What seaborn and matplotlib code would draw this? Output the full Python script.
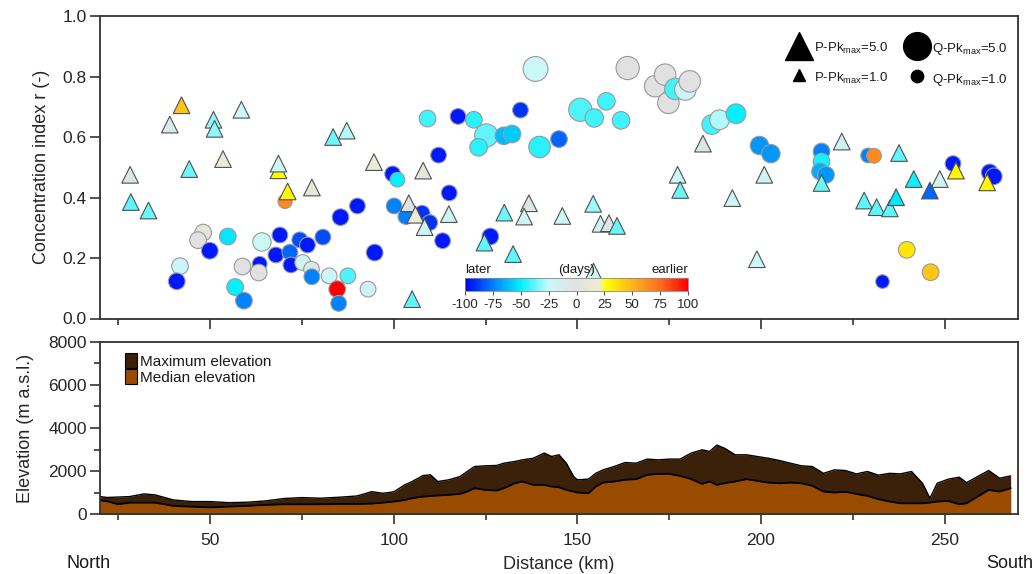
import pandas as pd
import matplotlib
matplotlib.use("Agg")
import matplotlib.pyplot as plt
from matplotlib.colors import LinearSegmentedColormap, Normalize
from matplotlib.cm import ScalarMappable
from matplotlib.lines import Line2D
from matplotlib.patches import Patch
from matplotlib.ticker import MultipleLocator
import seaborn as sns

# discharge peaks (circles): distance (km), concentration index r, timing (days), Pk_max
q_dist = [70.4, 48.1, 46.7, 54.8, 49.9, 41.8, 40.9, 64.1, 69.0, 74.4, 76.5, 80.7, 85.5, 90.1,
          67.9, 71.7, 72.0, 63.5, 58.8, 63.2, 75.2, 77.6, 77.7, 82.4, 87.5, 56.8, 59.2, 84.6,
          85.0, 138.6, 109.2, 117.5, 121.8, 134.5, 125.2, 123.1, 130.0, 132.2, 145.0, 139.7,
          150.8, 154.6, 157.9, 112.2, 99.7, 101.0, 115.1, 100.1, 103.3, 107.7, 109.8, 113.3,
          126.3, 94.8, 93.0, 163.7, 171.2, 173.9, 174.8, 176.7, 179.4, 180.6, 161.9, 186.6,
          188.7, 193.2, 199.6, 202.7, 216.5, 216.5, 216.1, 217.7, 229.2, 230.8, 252.3, 262.3,
          263.4, 239.7, 246.2, 233.1]
q_r = [0.387, 0.284, 0.259, 0.271, 0.224, 0.173, 0.123, 0.253, 0.276, 0.260, 0.243, 0.269,
       0.335, 0.372, 0.210, 0.219, 0.177, 0.181, 0.172, 0.152, 0.185, 0.163, 0.138, 0.141,
       0.141, 0.104, 0.059, 0.097, 0.050, 0.825, 0.661, 0.668, 0.657, 0.689, 0.605, 0.566,
       0.604, 0.610, 0.593, 0.567, 0.690, 0.663, 0.718, 0.540, 0.478, 0.459, 0.415, 0.372,
       0.337, 0.348, 0.317, 0.257, 0.271, 0.218, 0.097, 0.828, 0.768, 0.806, 0.713, 0.759,
       0.757, 0.784, 0.655, 0.641, 0.657, 0.677, 0.572, 0.545, 0.552, 0.519, 0.486, 0.475,
       0.539, 0.538, 0.512, 0.483, 0.470, 0.227, 0.153, 0.122]
q_days = [65, 5, 0, -52, -95, -20, -95, -22, -95, -85, -95, -85, -95, -95, -95, -80, -95, -95,
          0, 0, -18, -8, -75, -22, -40, -50, -75, 100, -75, -22, -42, -95, -45, -90, -38, -45,
          -62, -58, -80, -45, -40, -42, -42, -95, -95, -50, -95, -75, -75, -90, -90, -95, -95,
          -95, -18, 0, 0, 0, 0, -42, -18, 0, -42, -42, -28, -50, -70, -70, -75, -47, -65, -70,
          -75, 65, -95, -95, -95, 35, 45, -95]
q_pk = [1.3, 1.8, 1.8, 1.8, 1.8, 1.8, 1.8, 2.2, 1.6, 1.6, 1.6, 1.6, 1.8, 1.6, 1.6, 1.6, 1.6,
        1.4, 1.8, 1.8, 1.6, 1.6, 1.6, 1.6, 1.6, 1.8, 1.8, 1.8, 1.6, 4.0, 1.8, 1.6, 1.8, 1.6,
        3.5, 2.0, 2.0, 2.0, 1.8, 3.0, 3.5, 2.2, 2.0, 1.6, 1.6, 1.4, 1.6, 1.6, 1.6, 1.6, 1.6,
        1.6, 1.8, 1.8, 1.6, 3.5, 3.0, 3.0, 3.0, 3.0, 3.0, 3.0, 2.0, 2.5, 2.5, 2.5, 2.2, 2.2,
        1.8, 1.8, 1.8, 1.8, 1.4, 1.4, 1.6, 1.8, 1.8, 1.8, 1.8, 1.2]

# precipitation peaks (triangles)
p_dist = [42.2, 39.0, 50.9, 51.2, 58.5, 53.5, 44.3, 28.2, 28.4, 33.2, 68.6, 68.6, 71.1, 77.7,
          83.5, 87.2, 94.6, 108.0, 104.1, 105.9, 108.4, 115.0, 124.7, 130.1, 136.8, 135.5,
          132.5, 145.9, 154.3, 156.3, 158.6, 160.8, 105.0, 154.4, 184.2, 177.3, 178.0, 192.2,
          200.9, 198.9, 222.0, 216.5, 237.6, 253.1, 261.6, 241.6, 248.7, 246.0, 228.1, 231.5,
          235.1, 236.8]
p_r = [0.705, 0.641, 0.657, 0.627, 0.690, 0.527, 0.494, 0.475, 0.385, 0.357, 0.490, 0.512,
       0.420, 0.433, 0.600, 0.621, 0.517, 0.489, 0.381, 0.343, 0.302, 0.345, 0.251, 0.350,
       0.381, 0.337, 0.213, 0.339, 0.379, 0.313, 0.315, 0.306, 0.064, 0.155, 0.578, 0.475,
       0.425, 0.398, 0.475, 0.196, 0.585, 0.448, 0.547, 0.489, 0.450, 0.461, 0.461, 0.423,
       0.390, 0.368, 0.364, 0.401]
p_days = [45, -10, -32, -32, -22, 15, -36, -5, -38, -36, 28, -22, 30, 10, -36, -28, 15, 5, 0,
          15, -18, -18, -38, -36, -5, -18, -38, -22, -30, -18, -5, -36, -38, -18, -5, -22, -36,
          -22, -18, -22, -18, -36, -38, 30, 30, -48, -18, -80, -38, -38, -38, -52]
p_pk = [1.8] * len(p_dist)

# elevation profile along the transect
prof_km = [20, 22, 25, 28, 32, 35, 40, 45, 50, 55, 60, 65, 70, 75, 80, 85, 90, 94, 97, 100,
           103, 105, 108, 110, 112, 115, 118, 120, 122, 125, 128, 130, 133, 135, 138, 141, 143,
           145, 147, 149, 150, 153, 155, 157, 160, 163, 166, 169, 172, 175, 178, 181, 184, 186,
           188, 190, 193, 196, 199, 202, 205, 208, 211, 214, 217, 220, 223, 226, 229, 232, 235,
           238, 241, 244, 246, 248, 251, 254, 256, 259, 262, 265, 268]
prof_max = [820, 780, 800, 820, 945, 900, 665, 590, 590, 540, 560, 620, 730, 775, 745, 790, 850,
            1050, 975, 1040, 1365, 1520, 1800, 1830, 1520, 1600, 1750, 1985, 2215, 2250, 2265,
            2370, 2450, 2525, 2600, 2840, 2680, 2760, 2370, 1750, 1600, 1630, 1900, 2060, 2215,
            2400, 2370, 2560, 2525, 2560, 2560, 2840, 2990, 2915, 3210, 3070, 2760, 2760, 2680,
            2600, 2495, 2370, 2250, 2215, 1900, 2060, 2030, 1875, 1985, 1815, 1900, 1875, 1985,
            1440, 745, 1440, 1630, 1720, 1470, 1750, 2030, 1675, 1780]
prof_med = [650, 600, 465, 540, 540, 540, 390, 355, 325, 355, 390, 435, 465, 465, 465, 480, 480,
            495, 540, 590, 665, 745, 820, 850, 870, 900, 945, 1055, 1210, 1130, 1100, 1210, 1440,
            1520, 1365, 1365, 1285, 1255, 1130, 1055, 1010, 975, 1285, 1470, 1520, 1600, 1630,
            1830, 1875, 1875, 1780, 1630, 1410, 1520, 1365, 1440, 1520, 1630, 1550, 1470, 1440,
            1470, 1440, 1320, 1055, 1010, 1040, 945, 850, 700, 590, 510, 510, 510, 540, 590, 620,
            465, 510, 820, 1130, 1055, 1210]

cbar_ticks = [-100, -75, -50, -25, 0, 25, 50, 75, 100]

sns.set_style("ticks")
plt.rcParams["font.family"] = ["Liberation Sans", "DejaVu Sans"]
plt.rcParams["mathtext.fontset"] = "custom"
plt.rcParams["mathtext.rm"] = "Liberation Sans"
plt.rcParams["mathtext.it"] = "Liberation Sans"
plt.rcParams["text.color"] = "#1a1a1a"
plt.rcParams["axes.unicode_minus"] = False

cmap = LinearSegmentedColormap.from_list("timing", [
    (0.0, "#0000ff"), (0.125, "#0082ff"), (0.25, "#00f0ff"), (0.375, "#c8fafa"),
    (0.5, "#e1e1e1"), (0.6, "#f0ecd2"), (0.635, "#ffff00"), (0.75, "#ffb41e"),
    (0.875, "#ff6e1e"), (1.0, "#ff0000")])

qdf = pd.DataFrame({"dist": q_dist, "r": q_r, "days": q_days, "pk": q_pk})
pdf = pd.DataFrame({"dist": p_dist, "r": p_r, "days": p_days, "pk": p_pk})
prof = pd.DataFrame({"km": prof_km, "max": prof_max, "med": prof_med})

fig = plt.figure(figsize=(10.35, 5.74), dpi=100)
ax1 = fig.add_axes([100 / 1035, 1 - 318.5 / 574, 918 / 1035, 302.5 / 574])
ax2 = fig.add_axes([100 / 1035, 1 - 514.3 / 574, 918 / 1035, 172.5 / 574])

sns.scatterplot(data=qdf, x="dist", y="r", hue="days", size="pk", palette=cmap,
                hue_norm=(-100, 100), sizes=(80, 400), size_norm=(1, 5), marker="o",
                edgecolor="#9a9a9a", linewidth=0.8, legend=False, ax=ax1, zorder=3)
sns.scatterplot(data=pdf, x="dist", y="r", hue="days", size="pk", palette=cmap,
                hue_norm=(-100, 100), sizes=(80, 400), size_norm=(1, 5), marker="^",
                edgecolor="#505050", linewidth=0.8, legend=False, ax=ax1, zorder=4)

# size legend
handles = [Line2D([], [], ls="", marker="^", color="k", markersize=20),
           Line2D([], [], ls="", marker="^", color="k", markersize=8.9),
           Line2D([], [], ls="", marker="o", color="k", markersize=20),
           Line2D([], [], ls="", marker="o", color="k", markersize=8.9)]
labels = [r"P-Pk$_{\mathrm{max}}$=5.0", r"P-Pk$_{\mathrm{max}}$=1.0",
          r"Q-Pk$_{\mathrm{max}}$=5.0", r"Q-Pk$_{\mathrm{max}}$=1.0"]
ax1.legend(handles, labels, ncol=2, loc="upper left", bbox_to_anchor=(0.7516, 0.922),
           frameon=False, fontsize=9.5, handlelength=1.4, handletextpad=0.4,
           handleheight=1.5, labelspacing=1.0, columnspacing=1.5, borderpad=0,
           borderaxespad=0, numpoints=1)

ax1.set_xlim(20, 270)
ax1.set_ylim(0, 1)
ax1.yaxis.set_major_locator(MultipleLocator(0.2))
ax1.yaxis.set_major_formatter(matplotlib.ticker.FormatStrFormatter("%.1f"))
ax1.xaxis.set_major_locator(MultipleLocator(50))
ax1.xaxis.set_minor_locator(MultipleLocator(25))
ax1.tick_params(axis="x", labelbottom=False)
ax1.set_xlabel("")
ax1.set_ylabel("Concentration index r (-)", fontsize=13)
ax1.yaxis.set_label_coords(-0.054, 0.5)

# elevation panel
ax2.fill_between(prof["km"], 0, prof["max"], color="#3b200a", lw=0)
ax2.fill_between(prof["km"], 0, prof["med"], color="#994c00", lw=0)
sns.lineplot(data=prof, x="km", y="max", color="black", lw=1.0, ax=ax2)
sns.lineplot(data=prof, x="km", y="med", color="black", lw=1.3, ax=ax2)
ax2.set_xlim(20, 270)
ax2.set_ylim(0, 8000)
ax2.yaxis.set_major_locator(MultipleLocator(2000))
ax2.yaxis.set_minor_locator(MultipleLocator(1000))
ax2.xaxis.set_major_locator(MultipleLocator(50))
ax2.xaxis.set_minor_locator(MultipleLocator(25))
ax2.set_ylabel("Elevation (m a.s.l.)", fontsize=13)
ax2.yaxis.set_label_coords(-0.072, 0.5)
ax2.set_xlabel("Distance (km)", fontsize=13, labelpad=6)
leg_h = [Patch(facecolor="#3b200a", edgecolor="black", lw=0.8),
         Patch(facecolor="#994c00", edgecolor="black", lw=0.8)]
ax2.legend(leg_h, ["Maximum elevation", "Median elevation"], loc="upper left",
           bbox_to_anchor=(0.027, 0.936), frameon=False, fontsize=11, handlelength=0.8,
           handleheight=1.2, handletextpad=0.2, labelspacing=0.0, borderpad=0,
           borderaxespad=0)

for ax in (ax1, ax2):
    for s in ax.spines.values():
        s.set_visible(True)
        s.set_linewidth(1.3)
        s.set_color("#333333")
    ax.tick_params(which="major", direction="out", length=7.5, width=1.2, color="#333333",
                   labelsize=12.5, pad=2)
    ax.tick_params(which="minor", direction="out", length=4.5, width=1.2, color="#333333")
ax2.tick_params(axis="x", which="major", pad=6)

fig.text(67 / 1035, 1 - 563 / 574, "North", fontsize=13, ha="left", va="center")
fig.text(1033 / 1035, 1 - 563 / 574, "South", fontsize=13, ha="right", va="center")

# colour bar
cax = fig.add_axes([465 / 1035, 1 - 291 / 574, 223 / 1035, 13.3 / 574])
cb = fig.colorbar(ScalarMappable(norm=Normalize(-100, 100), cmap=cmap), cax=cax,
                  orientation="horizontal", ticks=cbar_ticks)
cb.outline.set_linewidth(0.6)
cb.outline.set_edgecolor("#888888")
cax.tick_params(labelsize=9.5, length=3, width=0.8, pad=3, color="#555555")
cax.text(0.0, 1.15, "later", transform=cax.transAxes, fontsize=9.5, ha="left", va="bottom")
cax.text(0.5, 1.15, "(days)", transform=cax.transAxes, fontsize=9.5, ha="center", va="bottom")
cax.text(1.0, 1.15, "earlier", transform=cax.transAxes, fontsize=9.5, ha="right", va="bottom")

fig.savefig("out.png", dpi=100)
